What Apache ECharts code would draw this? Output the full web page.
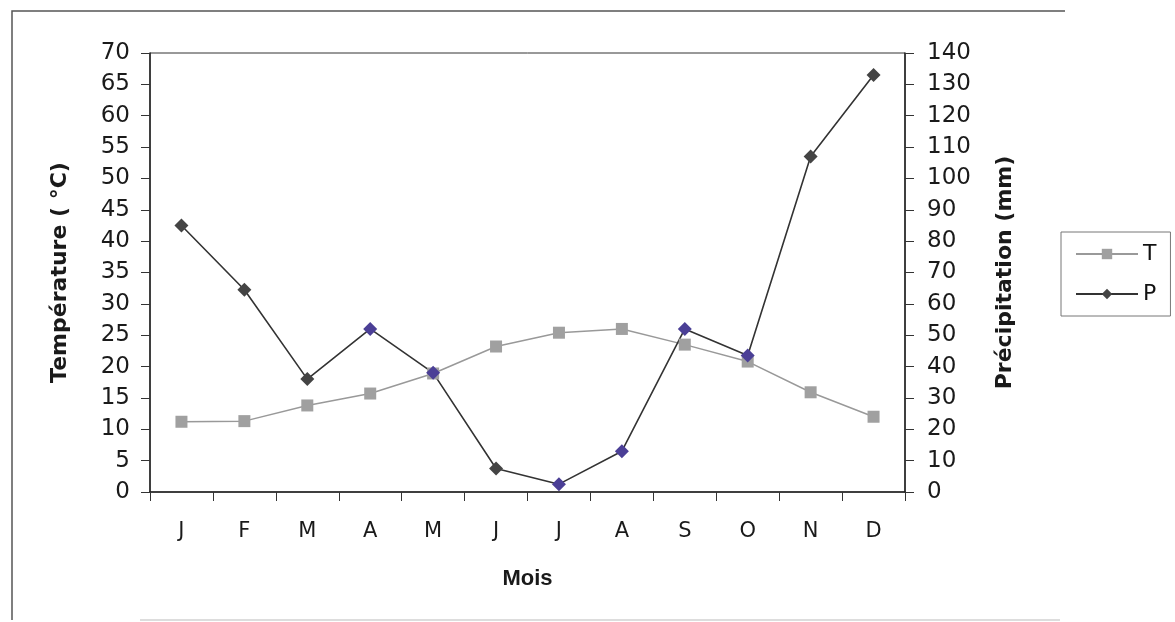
<!DOCTYPE html>
<html>
<head>
<meta charset="utf-8">
<script src="https://cdn.jsdelivr.net/npm/echarts@6/dist/echarts.min.js"></script>
<style>html,body{margin:0;padding:0;background:#fff;}#c{width:1175px;height:622px;}</style>
</head>
<body>
<div id="c"></div>
<script>
var months = ['J','F','M','A','M','J','J','A','S','O','N','D'];
var temperature = [11.2, 11.3, 13.8, 15.7, 18.9, 23.2, 25.4, 26.0, 23.5, 20.8, 15.9, 12.0];
var precipitation = [85, 64.5, 36, 52, 38, 7.5, 2.5, 13, 52, 43.5, 107, 133];
var leftTicks = [0, 70, 5];
var rightTicks = [0, 140, 10];
var pMarkerColors = ['#444','#444','#444','#4b3f96','#4b3f96','#444','#4b3f96','#4b3f96','#4b3f96','#4b3f96','#444','#444'];

var chart = echarts.init(document.getElementById('c'));
var font = 'Liberation Sans, Arial, sans-serif';
var wide = 'DejaVu Sans, sans-serif';
chart.setOption({
  animation: false,
  backgroundColor: '#fff',
  textStyle: {fontFamily: font},
  grid: {left: 150, right: 270, top: 53, bottom: 130, show: true, borderColor: '#333', borderWidth: 1},
  graphic: [
    {type: 'polyline', shape: {points: [[12, 620], [12, 11], [1065, 11]]}, style: {stroke: '#555', lineWidth: 1.5, fill: null}},
    {type: 'line', shape: {x1: 140, y1: 620, x2: 1060, y2: 620}, style: {stroke: '#bbb', lineWidth: 1}}
  ],
  legend: {
    left: 1061, top: 232, width: 108, orient: 'vertical',
    padding: [11, 14, 11, 14], itemGap: 18,
    borderColor: '#777', borderWidth: 1,
    itemWidth: 62, itemHeight: 13,
    textStyle: {fontSize: 22, color: '#111', fontFamily: wide},
    data: ['T', 'P']
  },
  xAxis: {
    type: 'category', data: months, boundaryGap: true,
    name: 'Mois', nameLocation: 'middle', nameGap: 76,
    nameTextStyle: {fontSize: 22, fontWeight: 'bold', color: '#1a1a1a', fontFamily: font},
    axisLine: {lineStyle: {color: '#222', width: 1.5}},
    axisTick: {show: true, alignWithLabel: false, length: 9, inside: false, lineStyle: {color: '#333'}},
    axisLabel: {fontSize: 21, color: '#1a1a1a', margin: 29, fontFamily: wide}
  },
  yAxis: [
    {
      type: 'value', min: leftTicks[0], max: leftTicks[1], interval: leftTicks[2],
      name: 'Température ( °C)', nameLocation: 'middle', nameGap: 79, nameRotate: 90,
      nameTextStyle: {fontSize: 22, fontWeight: 'bold', color: '#1a1a1a', fontFamily: wide},
      axisLine: {show: true, lineStyle: {color: '#222', width: 1.5}},
      axisTick: {show: true, length: 9, lineStyle: {color: '#333'}},
      axisLabel: {fontSize: 23, color: '#1a1a1a', margin: 20, fontFamily: wide},
      splitLine: {show: false}
    },
    {
      type: 'value', min: rightTicks[0], max: rightTicks[1], interval: rightTicks[2], position: 'right',
      name: 'Précipitation (mm)', nameLocation: 'middle', nameGap: 89, nameRotate: 90,
      nameTextStyle: {fontSize: 22, fontWeight: 'bold', color: '#1a1a1a', fontFamily: wide},
      axisLine: {show: true, lineStyle: {color: '#222', width: 1.5}},
      axisTick: {show: true, length: 9, lineStyle: {color: '#333'}},
      axisLabel: {fontSize: 23, color: '#1a1a1a', margin: 22, fontFamily: wide},
      splitLine: {show: false}
    }
  ],
  series: [
    {
      name: 'T', type: 'line', yAxisIndex: 0, data: temperature,
      symbol: 'rect', symbolSize: 12,
      lineStyle: {color: '#999', width: 1.5},
      itemStyle: {color: '#a0a0a0'}
    },
    {
      name: 'P', type: 'line', yAxisIndex: 1,
      data: precipitation.map(function (v, i) { return {value: v, itemStyle: {color: pMarkerColors[i]}}; }),
      symbol: 'diamond', symbolSize: 14,
      lineStyle: {color: '#333', width: 1.6},
      itemStyle: {color: '#444'}
    }
  ]
});
</script>
</body>
</html>
